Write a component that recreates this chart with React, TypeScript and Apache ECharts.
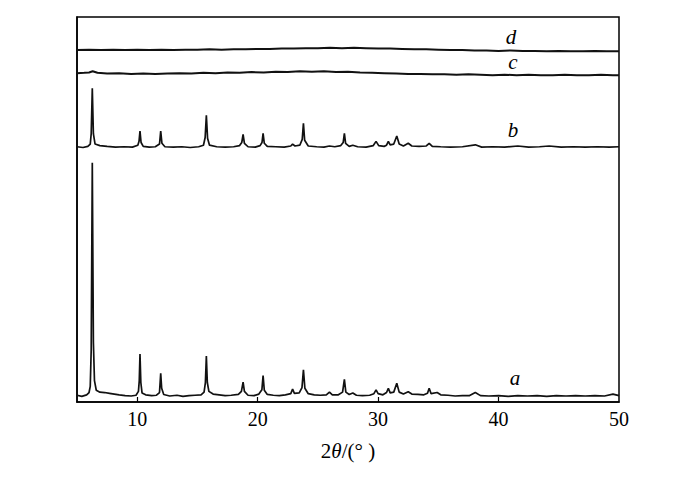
import React, { useEffect, useRef } from "react";
import * as echarts from "echarts";

// 2θ (degrees) / intensity above each pattern's own baseline (arbitrary units)
const patternA: [number, number][] = [
  [5.0, 0.2], [5.4, -0.1], [5.8, 0.3], [6.0, 0.9], [6.1, 2.5], [6.18, 12], [6.27, 60.6], [6.36, 14], [6.45, 4], [6.6, 1.5],
  [6.9, 1.0], [7.3, 0.9], [7.7, 0.7], [8.1, 0.5], [8.5, 0.3], [9.0, 0.1], [9.5, 0.0], [9.9, 0.2], [10.1, 1.2], [10.17, 4],
  [10.23, 10.9], [10.3, 3.5], [10.4, 0.8], [10.7, 0.3], [11.2, 0.1], [11.6, 0.2], [11.85, 0.9], [11.95, 5.9], [12.03, 2], [12.2, 0.4],
  [12.7, 0.0], [13.3, 0.2], [13.8, -0.1], [14.3, 0.1], [14.8, 0.2], [15.3, 0.3], [15.55, 1.0], [15.66, 3.5], [15.74, 10.4], [15.82, 3.5],
  [15.95, 1.2], [16.3, 0.5], [16.8, 0.3], [17.3, 0.1], [17.8, 0.2], [18.4, 0.4], [18.65, 1.2], [18.79, 3.6], [18.9, 1.2], [19.2, 0.2],
  [19.7, 0.1], [20.1, 0.5], [20.35, 1.6], [20.45, 5.3], [20.55, 1.5], [20.8, 0.4], [21.3, 0.2], [21.8, 0.1], [22.3, 0.3], [22.75, 0.6],
  [22.9, 1.8], [23.05, 0.7], [23.45, 0.8], [23.68, 2.2], [23.8, 6.8], [23.92, 2.0], [24.2, 0.6], [24.7, 0.3], [25.2, 0.2], [25.7, 0.3],
  [25.96, 1.0], [26.2, 0.3], [26.7, 0.3], [27.05, 1.0], [27.2, 4.3], [27.32, 1.0], [27.6, 0.4], [27.9, 0.8], [28.2, 0.2], [28.7, 0.1],
  [29.3, 0.2], [29.65, 0.6], [29.83, 1.6], [30.0, 0.6], [30.4, 0.3], [30.7, 0.9], [30.85, 2.0], [31.0, 0.8], [31.3, 1.0], [31.55, 3.3],
  [31.75, 1.0], [32.1, 0.5], [32.5, 1.1], [32.8, 0.5], [33.3, 0.4], [33.8, 0.3], [34.1, 0.7], [34.24, 2.0], [34.4, 0.6], [34.9, 0.9],
  [35.2, 0.3], [35.8, 0.2], [36.4, 0.0], [37.0, 0.1], [37.6, 0.1], [38.07, 0.9], [38.5, 0.1], [39.2, 0.0], [40.0, 0.1], [40.8, -0.1],
  [41.6, 0.1], [42.4, 0.0], [43.2, 0.1], [44.0, -0.1], [44.8, 0.1], [45.6, 0.0], [46.4, 0.1], [47.2, 0.0], [48.0, 0.1], [48.8, 0.0],
  [49.5, 0.5], [50.0, 0.1],
];

const patternB: [number, number][] = [
  [5.0, 0.1], [5.5, -0.1], [5.9, 0.2], [6.1, 0.8], [6.18, 3.5], [6.27, 15.3], [6.36, 3.5], [6.5, 0.8], [6.9, 0.4], [7.5, 0.2],
  [8.2, 0.0], [8.9, 0.1], [9.6, 0.0], [10.05, 0.5], [10.15, 1.5], [10.23, 4.2], [10.32, 1.2], [10.5, 0.2], [11.0, 0.0], [11.5, 0.1],
  [11.85, 0.8], [11.95, 4.2], [12.05, 1.0], [12.3, 0.1], [13.0, 0.0], [13.7, 0.1], [14.4, -0.1], [15.1, 0.1], [15.5, 0.5], [15.64, 2.5],
  [15.74, 8.3], [15.84, 2.3], [16.0, 0.5], [16.6, 0.1], [17.3, 0.0], [18.0, 0.1], [18.5, 0.4], [18.68, 1.2], [18.79, 3.3], [18.9, 1.0],
  [19.2, 0.1], [19.8, 0.0], [20.2, 0.4], [20.36, 1.2], [20.45, 3.6], [20.55, 1.0], [20.8, 0.2], [21.5, 0.1], [22.2, 0.0], [22.75, 0.3],
  [22.9, 0.8], [23.1, 0.3], [23.5, 0.5], [23.7, 2.0], [23.8, 6.2], [23.9, 1.8], [24.2, 0.3], [24.9, 0.1], [25.5, 0.0], [25.96, 0.3],
  [26.4, 0.1], [26.9, 0.4], [27.1, 1.2], [27.2, 3.6], [27.3, 1.0], [27.6, 0.2], [27.9, 0.5], [28.3, 0.1], [29.0, 0.0], [29.6, 0.4],
  [29.83, 1.5], [30.05, 0.4], [30.5, 0.2], [30.7, 0.5], [30.85, 1.5], [31.0, 0.6], [31.3, 0.8], [31.55, 2.9], [31.75, 0.8], [32.1, 0.3],
  [32.5, 1.0], [32.8, 0.3], [33.4, 0.2], [34.0, 0.3], [34.24, 1.0], [34.5, 0.2], [35.2, 0.1], [36.0, 0.0], [37.0, 0.1], [38.07, 0.6],
  [38.6, 0.0], [39.5, 0.1], [40.5, 0.0], [41.6, 0.3], [42.5, 0.0], [43.4, 0.1], [44.2, 0.3], [45.2, 0.0], [46.2, 0.1], [47.2, 0.0],
  [48.2, 0.1], [49.2, 0.0], [50.0, 0.1],
];

const patternC: [number, number][] = [
  [5.0, 0.1], [5.6, 0.2], [6.0, 0.3], [6.3, 0.6], [6.7, 0.2], [7.5, 0.0], [8.5, 0.1], [9.5, -0.1], [10.5, 0.0], [11.5, -0.1],
  [12.5, 0.0], [13.5, 0.1], [14.5, 0.0], [15.5, 0.2], [16.5, 0.1], [17.5, 0.3], [18.5, 0.2], [19.5, 0.4], [20.5, 0.3], [21.5, 0.5],
  [22.5, 0.4], [23.5, 0.6], [24.5, 0.5], [25.5, 0.6], [26.5, 0.4], [27.5, 0.5], [28.5, 0.3], [29.5, 0.2], [30.5, 0.1], [31.5, 0.0],
  [32.5, -0.1], [33.5, -0.1], [34.5, -0.2], [35.5, -0.2], [36.5, -0.3], [37.5, -0.2], [38.5, -0.3], [39.5, -0.4], [40.5, -0.3],
  [41.5, -0.4], [42.5, -0.3], [43.5, -0.4], [44.5, -0.4], [45.5, -0.3], [46.5, -0.4], [47.5, -0.4], [48.5, -0.3], [49.5, -0.4], [50.0, -0.4],
];

const patternD: [number, number][] = [
  [5.0, 0.0], [6.0, 0.1], [7.0, 0.0], [8.0, 0.1], [9.0, 0.0], [10.0, 0.1], [11.0, 0.0], [12.0, 0.1], [13.0, 0.0], [14.0, 0.1],
  [15.0, 0.1], [16.0, 0.2], [17.0, 0.1], [18.0, 0.2], [19.0, 0.2], [20.0, 0.3], [21.0, 0.3], [22.0, 0.4], [23.0, 0.4], [24.0, 0.5],
  [25.0, 0.5], [26.0, 0.6], [27.0, 0.5], [28.0, 0.6], [29.0, 0.5], [30.0, 0.4], [31.0, 0.4], [32.0, 0.3], [33.0, 0.2], [34.0, 0.2],
  [35.0, 0.1], [36.0, 0.0], [37.0, 0.0], [38.0, -0.1], [39.0, -0.1], [40.0, -0.2], [41.0, -0.1], [42.0, -0.2], [43.0, -0.2],
  [44.0, -0.3], [45.0, -0.2], [46.0, -0.3], [47.0, -0.3], [48.0, -0.2], [49.0, -0.3], [50.0, -0.3],
];

const seriesNames = ["a", "b", "c", "d"];
const seriesBaselines = [1.56, 66.2, 85.3, 91.4];
const xTickLabels = [10, 20, 30, 40, 50];
const xTicks = [10, 20, 30, 40];

const serif = "Times New Roman, Liberation Serif, DejaVu Serif, serif";

export default function App() {
  const ref = useRef<HTMLDivElement>(null);
  useEffect(() => {
    document.body.style.margin = "0";
    if (!ref.current) return;
    const chart = echarts.init(ref.current, undefined, { renderer: "svg" });
    const patterns = [patternA, patternB, patternC, patternD];
    const lineWidths = [1.7, 1.7, 2, 2];
    const labelPos: [number, number][] = [[515, 378], [513, 130], [513, 62], [511, 37]];

    chart.setOption({
      animation: false,
      backgroundColor: "#fff",
      textStyle: { fontFamily: serif },
      grid: {
        left: 77, right: 81, top: 17, bottom: 79,
        show: true, borderColor: "#000", borderWidth: 1.5, backgroundColor: "transparent",
      },
      xAxis: {
        type: "value",
        min: 5,
        max: 50,
        name: "{n|2}{i|θ}{n|/(° )}",
        nameLocation: "middle",
        nameGap: 38,
        nameTextStyle: {
          rich: {
            n: { fontFamily: serif, fontSize: 21, color: "#000" },
            i: { fontFamily: serif, fontSize: 21, fontStyle: "italic", color: "#000" },
          },
        },
        axisLine: { show: true, lineStyle: { color: "#000", width: 1.5 } },
        axisTick: { show: true, inside: true, length: 5, customValues: xTicks, lineStyle: { color: "#000", width: 1.2 } },
        axisLabel: {
          show: true, customValues: xTickLabels, fontFamily: serif, fontSize: 20, color: "#000", margin: 7,
          showMinLabel: true, showMaxLabel: true,
        },
        splitLine: { show: false },
      },
      yAxis: {
        type: "value",
        min: 0,
        max: 100,
        axisLine: { show: true, lineStyle: { color: "#000", width: 1.5 } },
        axisTick: { show: false },
        axisLabel: { show: false },
        splitLine: { show: false },
      },
      series: patterns.map((p, i) => ({
        type: "line",
        name: seriesNames[i],
        data: p.map(([x, y]) => [x, y + seriesBaselines[i]]),
        showSymbol: false,
        symbol: "none",
        smooth: false,
        lineStyle: { color: "#111", width: lineWidths[i] },
      })),
      graphic: seriesNames.map((n, i) => ({
        type: "text",
        x: labelPos[i][0],
        y: labelPos[i][1],
        style: {
          text: n,
          fontFamily: serif,
          fontSize: 21,
          fontStyle: "italic",
          fill: "#000",
          textAlign: "center",
          textVerticalAlign: "middle",
        },
      })),
    });
    return () => chart.dispose();
  }, []);
  return <div ref={ref} style={{ width: 700, height: 481 }} />;
}
